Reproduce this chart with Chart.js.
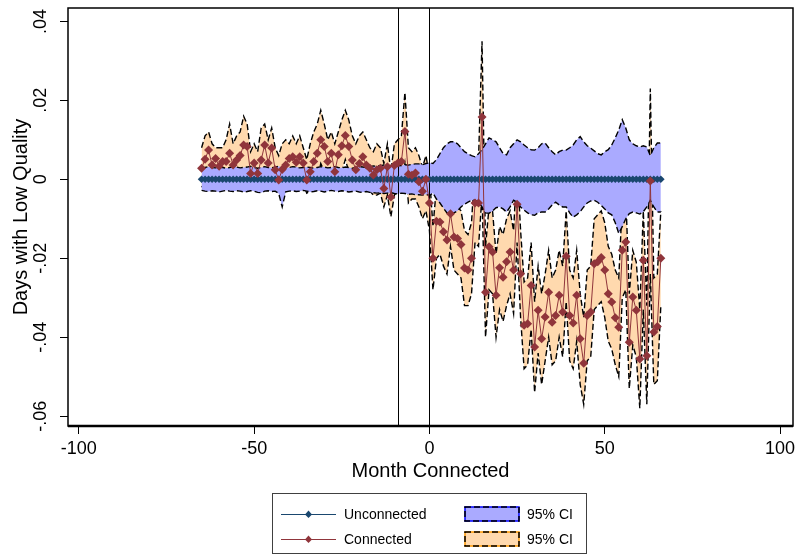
<!DOCTYPE html>
<html><head><meta charset="utf-8">
<script src="https://cdn.jsdelivr.net/npm/chart.js@4.4.1/dist/chart.umd.min.js"></script>
<style>html,body{margin:0;padding:0;background:#fff;}#wrap{width:799px;height:558px;position:relative;}</style>
</head><body><div id="wrap"><canvas id="c" width="799" height="558"></canvas></div>
<script>
const months = [-65,-64,-63,-62,-61,-60,-59,-58,-57,-56,-55,-54,-53,-52,-51,-50,-49,-48,-47,-46,-45,-44,-43,-42,-41,-40,-39,-38,-37,-36,-35,-34,-33,-32,-31,-30,-29,-28,-27,-26,-25,-24,-23,-22,-21,-20,-19,-18,-17,-16,-15,-14,-13,-12,-11,-10,-9,-8,-7,-6,-5,-4,-3,-2,-1,0,1,2,3,4,5,6,7,8,9,10,11,12,13,14,15,16,17,18,19,20,21,22,23,24,25,26,27,28,29,30,31,32,33,34,35,36,37,38,39,40,41,42,43,44,45,46,47,48,49,50,51,52,53,54,55,56,57,58,59,60,61,62,63,64,65,66];

const unconnected = [0,0,0,0,0,0,0,0,0,0,0,0,0,0,0,0,0,0,0,0,0,0,0,0,0,0,0,0,0,0,0,0,0,0,0,0,0,0,0,0,0,0,0,0,0,0,0,0,0,0,0,0,0,0,0,0,0,0,0,0,0,0,0,0,0,0,0,0,0,0,0,0,0,0,0,0,0,0,0,0,0,0,0,0,0,0,0,0,0,0,0,0,0,0,0,0,0,0,0,0,0,0,0,0,0,0,0,0,0,0,0,0,0,0,0,0,0,0,0,0,0,0,0,0,0,0,0,0,0,0,0,0];

const unconnectedHi = [
0.0028,0.0030,0.0032,0.0030,0.0029,0.0031,0.0030,0.0028,0.0030,0.0032,
0.0031,0.0029,0.0030,0.0031,0.0033,0.0030,0.0028,0.0030,0.0032,0.0030,
0.0029,0.0031,0.0033,0.0030,0.0029,0.0030,0.0032,0.0031,0.0029,0.0030,
0.0031,0.0030,0.0028,0.0030,0.0032,0.0031,0.0029,0.0030,0.0032,0.0030,
0.0029,0.0031,0.0030,0.0028,0.0030,0.0032,0.0031,0.0030,0.0032,0.0034,
0.0033,0.0035,0.0036,0.0034,0.0035,0.0036,0.0034,0.0035,0.0037,0.0036,
0.0038,0.0039,0.0039,0.0037,0.0040,0.0042,
0.0040,0.0050,0.0065,0.0080,0.0090,0.0095,0.0095,0.0090,0.0080,0.0070,
0.0065,0.0060,0.0057,0.0065,0.0075,0.0090,0.0105,0.0100,0.0095,0.0080,
0.0065,0.0062,0.0080,0.0090,0.0100,0.0095,0.0087,0.0080,0.0075,0.0074,
0.0080,0.0090,0.0092,0.0080,0.0070,0.0062,0.0070,0.0074,0.0074,0.0080,
0.0087,0.0100,0.0108,0.0095,0.0085,0.0079,0.0072,0.0065,0.0062,0.0070,
0.0075,0.0087,0.0105,0.0125,0.0151,0.0130,0.0100,0.0090,0.0085,0.0082,
0.0085,0.0082,0.0060,0.0080,0.0092,0.0092];

const unconnectedLo = [
-0.0028,-0.0030,-0.0031,-0.0029,-0.0030,-0.0032,-0.0030,-0.0028,-0.0030,-0.0031,
-0.0029,-0.0030,-0.0032,-0.0031,-0.0029,-0.0030,-0.0033,-0.0034,-0.0030,-0.0029,
-0.0031,-0.0030,-0.0036,-0.0070,-0.0032,-0.0030,-0.0029,-0.0031,-0.0030,-0.0028,
-0.0030,-0.0032,-0.0031,-0.0029,-0.0030,-0.0032,-0.0030,-0.0028,-0.0030,-0.0031,
-0.0029,-0.0030,-0.0032,-0.0031,-0.0030,-0.0032,-0.0033,-0.0031,-0.0033,-0.0034,
-0.0035,-0.0034,-0.0036,-0.0035,-0.0034,-0.0036,-0.0037,-0.0035,-0.0036,-0.0038,
-0.0037,-0.0039,-0.0039,-0.0040,-0.0038,-0.0041,
-0.0035,-0.0050,-0.0060,-0.0073,-0.0085,-0.0090,-0.0085,-0.0080,-0.0070,-0.0063,
-0.0058,-0.0053,-0.0053,-0.0058,-0.0070,-0.0085,-0.0086,-0.0080,-0.0072,-0.0070,
-0.0075,-0.0083,-0.0070,-0.0053,-0.0058,-0.0070,-0.0078,-0.0085,-0.0090,-0.0091,
-0.0085,-0.0083,-0.0083,-0.0075,-0.0065,-0.0058,-0.0065,-0.0070,-0.0070,-0.0085,
-0.0096,-0.0090,-0.0082,-0.0070,-0.0060,-0.0055,-0.0053,-0.0058,-0.0066,-0.0075,
-0.0085,-0.0090,-0.0110,-0.0137,-0.0120,-0.0100,-0.0087,-0.0083,-0.0085,-0.0088,
-0.0082,-0.0070,-0.0053,-0.0070,-0.0083,-0.0083];

const connected = [
0.0028,0.0051,0.0074,0.0036,0.0053,0.0033,0.0045,0.0045,0.0066,0.0036,
0.0049,0.0060,0.0087,0.0083,0.0015,0.0041,0.0015,0.0049,0.0087,0.0041,
0.0079,0.0024,-0.0002,0.0025,0.0036,0.0053,0.0057,0.0043,0.0057,0.0041,
-0.0002,0.0019,0.0045,0.0066,0.0100,0.0083,0.0045,0.0066,0.0019,0.0062,
0.0085,0.0111,0.0083,0.0049,0.0024,0.0040,0.0057,0.0036,0.0028,0.0011,
0.0024,0.0028,-0.0023,0.0032,-0.0045,0.0035,0.0041,0.0045,0.0121,0.0013,
0.0010,0.0016,-0.0006,-0.0030,0.0000,-0.0060,
-0.0200,-0.0106,-0.0108,-0.0133,-0.0154,-0.0087,-0.0146,-0.0150,-0.0165,-0.0225,
-0.0230,-0.0200,-0.0060,-0.0060,0.0158,-0.0286,-0.0171,-0.0184,-0.0294,-0.0224,
-0.0248,-0.0209,-0.0184,-0.0230,-0.0063,-0.0239,-0.0370,-0.0366,-0.0269,-0.0425,
-0.0332,-0.0404,-0.0349,-0.0286,-0.0362,-0.0345,-0.0294,-0.0336,-0.0195,-0.0345,
-0.0364,-0.0294,-0.0404,-0.0466,-0.0345,-0.0336,-0.0214,-0.0209,-0.0198,-0.0230,
-0.0290,-0.0311,-0.0351,-0.0375,-0.0180,-0.0159,-0.0413,-0.0298,-0.0332,-0.0455,
-0.0205,-0.0447,-0.0004,-0.0387,-0.0373,-0.0200];

const connectedHi = [
0.008,0.011,0.012,0.009,0.008,0.008,0.008,0.010,0.014,0.009,
0.011,0.012,0.016,0.014,0.007,0.009,0.007,0.013,0.014,0.010,
0.013,0.008,0.006,0.009,0.010,0.009,0.011,0.009,0.011,0.008,
0.005,0.009,0.012,0.014,0.0175,0.014,0.010,0.012,0.009,0.012,
0.015,0.0175,0.015,0.011,0.009,0.011,0.012,0.010,0.008,0.007,
0.009,0.008,0.004,0.009,0.002,0.009,0.010,0.011,0.022,0.008,
0.007,0.008,0.006,0.003,0.006,0.001,
-0.012,-0.002,-0.003,-0.005,-0.007,0.000,-0.006,-0.007,-0.008,-0.013,
-0.014,-0.011,0.004,0.005,0.035,-0.017,-0.007,-0.008,-0.019,-0.012,
-0.014,-0.010,-0.008,-0.013,0.004,-0.013,-0.026,-0.025,-0.016,-0.031,
-0.022,-0.029,-0.024,-0.018,-0.025,-0.023,-0.018,-0.022,-0.008,-0.023,
-0.025,-0.018,-0.029,-0.035,-0.023,-0.022,-0.010,-0.009,-0.008,-0.011,
-0.017,-0.019,-0.023,-0.025,-0.006,-0.004,-0.029,-0.018,-0.021,-0.033,
-0.008,-0.032,0.023,-0.025,-0.024,-0.008];

const connectedLo = [
-0.002,-0.001,0.002,-0.002,0.000,-0.002,-0.001,-0.001,0.000,-0.002,
-0.001,0.000,0.002,0.002,-0.0025,-0.001,-0.0025,-0.001,0.003,-0.002,
0.002,-0.0025,-0.0025,-0.0025,-0.0025,0.000,0.000,-0.001,0.000,-0.001,
-0.0035,-0.003,-0.002,0.000,0.004,0.002,-0.002,0.001,-0.0025,0.000,
0.002,0.005,0.002,-0.002,-0.0025,-0.002,0.000,-0.0025,-0.003,-0.004,
-0.004,-0.0035,-0.007,-0.004,-0.0095,-0.004,-0.003,-0.002,0.004,-0.006,
-0.005,-0.005,-0.007,-0.010,-0.008,-0.013,
-0.028,-0.020,-0.019,-0.022,-0.024,-0.017,-0.023,-0.024,-0.025,-0.032,
-0.032,-0.029,-0.016,-0.017,-0.004,-0.040,-0.028,-0.029,-0.040,-0.033,
-0.036,-0.032,-0.029,-0.034,-0.016,-0.035,-0.048,-0.047,-0.038,-0.054,
-0.044,-0.052,-0.046,-0.040,-0.047,-0.046,-0.040,-0.045,-0.031,-0.046,
-0.048,-0.041,-0.052,-0.057,-0.046,-0.045,-0.033,-0.032,-0.031,-0.035,
-0.041,-0.043,-0.047,-0.050,-0.030,-0.028,-0.053,-0.042,-0.045,-0.058,
-0.033,-0.057,-0.024,-0.052,-0.051,-0.032];

const xTicks = [-100, -50, 0, 50, 100];
const yTicks = [-0.06, -0.04, -0.02, 0, 0.02, 0.04];
const refLines = [-9, 0];
const legendLabels = ['Unconnected', 'Connected', '95% CI', '95% CI'];

const NAVY = '#1a476f', MAROON = '#90353b', BLUEFILL = '#aaaaff', ORANGEFILL = '#ffd9ae';
const FONT = "'Liberation Sans', Arial, sans-serif";
Chart.defaults.font.family = FONT;
Chart.defaults.color = '#000';

const pts = arr => months.map((m, i) => ({x: m, y: arr[i]}));
const fmtY = v => v === 0 ? '0' : (v < 0 ? '-' : '') + Math.abs(v).toFixed(2).replace(/^0/, '');

const ciLine = (data, extra) => Object.assign({
  data, borderColor: '#000', borderWidth: 1.4, borderDash: [6, 3], pointRadius: 0,
  tension: 0, fill: false
}, extra);

const refPlugin = {
  id: 'refLines',
  beforeDatasetDraw(chart, args) {
    if (args.index !== 1) return;
    const {ctx, chartArea} = chart, xs = chart.scales.x;
    ctx.save();
    ctx.strokeStyle = '#000'; ctx.lineWidth = 1;
    refLines.forEach(v => {
      const px = Math.round(xs.getPixelForValue(v)) + 0.5;
      ctx.beginPath(); ctx.moveTo(px, chartArea.top); ctx.lineTo(px, chartArea.bottom); ctx.stroke();
    });
    ctx.restore();
  }
};

const framePlugin = {
  id: 'frame',
  afterDraw(chart) {
    const {ctx, chartArea: a} = chart;
    ctx.save();
    ctx.strokeStyle = '#000';
    ctx.lineWidth = 1.5;
    ctx.strokeRect(a.left, a.top, a.right - a.left, a.bottom - a.top);
    ctx.lineWidth = 2.5;
    ctx.beginPath(); ctx.moveTo(a.left, a.bottom); ctx.lineTo(a.right, a.bottom); ctx.stroke();
    ctx.restore();
  }
};

const legendPlugin = {
  id: 'boxLegend',
  afterDraw(chart) {
    const ctx = chart.ctx;
    ctx.save();
    ctx.strokeStyle = '#404040'; ctx.lineWidth = 1;
    ctx.strokeRect(272.5, 493.5, 314, 60);
    ctx.font = "14px " + FONT;
    ctx.fillStyle = '#000'; ctx.textBaseline = 'middle'; ctx.textAlign = 'left';
    const rows = [514, 539];
    const lineCols = [NAVY, MAROON];
    const fills = [BLUEFILL, ORANGEFILL];
    const edge = ['#0000ff', '#ff9900'];
    rows.forEach((y, r) => {
      ctx.strokeStyle = lineCols[r]; ctx.lineWidth = 1;
      ctx.beginPath(); ctx.moveTo(281, y + 0.5); ctx.lineTo(336, y + 0.5); ctx.stroke();
      ctx.fillStyle = lineCols[r];
      ctx.beginPath(); ctx.moveTo(308.5, y - 3.5); ctx.lineTo(312, y + 0.5); ctx.lineTo(308.5, y + 4); ctx.lineTo(305, y + 0.5); ctx.closePath(); ctx.fill();
      ctx.fillStyle = '#000';
      ctx.fillText(legendLabels[r], 344, y + 1);
      ctx.fillStyle = fills[r];
      ctx.fillRect(465, y - 7, 54, 14);
      ctx.strokeStyle = edge[r]; ctx.lineWidth = 1.5; ctx.setLineDash([]);
      ctx.strokeRect(465, y - 7, 54, 14);
      ctx.strokeStyle = '#000'; ctx.setLineDash([6, 3]);
      ctx.strokeRect(465, y - 7, 54, 14);
      ctx.setLineDash([]);
      ctx.fillStyle = '#000';
      ctx.fillText(legendLabels[r + 2], 527, y + 1);
    });
    ctx.restore();
  }
};

new Chart(document.getElementById('c'), {
  type: 'line',
  data: {
    datasets: [
      {label: legendLabels[1], data: pts(connected), borderColor: MAROON, borderWidth: 1, tension: 0,
       pointStyle: 'rectRot', pointRadius: 4.5, pointBackgroundColor: MAROON, pointBorderColor: MAROON,
       pointBorderWidth: 0, fill: false, order: 1},
      {label: legendLabels[0], data: pts(unconnected), borderColor: NAVY, borderWidth: 1, tension: 0,
       pointStyle: 'rectRot', pointRadius: 3.8, pointBackgroundColor: NAVY, pointBorderColor: NAVY,
       pointBorderWidth: 0, fill: false, order: 2},
      ciLine(pts(unconnectedHi), {label: legendLabels[2], fill: {target: 3}, backgroundColor: BLUEFILL, order: 4}),
      ciLine(pts(unconnectedLo), {label: legendLabels[2], order: 3}),
      ciLine(pts(connectedHi), {label: legendLabels[3], fill: {target: 5}, backgroundColor: ORANGEFILL, order: 6}),
      ciLine(pts(connectedLo), {label: legendLabels[3], order: 5})
    ]
  },
  options: {
    responsive: false, animation: false, devicePixelRatio: 1, events: [],
    layout: {padding: {top: 8, right: 6, bottom: 74, left: 0}},
    plugins: {legend: {display: false}, tooltip: {enabled: false}},
    scales: {
      x: {
        type: 'linear', min: -103.1, max: 103.7,
        afterBuildTicks: s => { s.ticks = xTicks.map(v => ({value: v})); },
        afterFit: s => { s.height = 58; s.paddingLeft = 0; s.paddingRight = 0; },
        ticks: {font: {size: 18}, color: '#000', padding: 4, maxRotation: 0, autoSkip: false, callback: v => String(v)},
        grid: {display: true, drawOnChartArea: false, drawTicks: true, tickLength: 8, color: '#000', lineWidth: 1},
        border: {display: false},
        title: {display: true, text: 'Month Connected', font: {size: 20}, color: '#000', padding: {top: 0, bottom: 1}}
      },
      y: {
        type: 'linear', min: -0.0625, max: 0.0434,
        afterBuildTicks: s => { s.ticks = yTicks.map(v => ({value: v})); },
        afterFit: s => { s.width = 68; s.paddingTop = 0; s.paddingBottom = 0; },
        ticks: {font: {size: 18}, color: '#000', padding: 3, minRotation: 90, maxRotation: 90, crossAlign: 'center', autoSkip: false, callback: fmtY},
        grid: {display: true, drawOnChartArea: false, drawTicks: true, tickLength: 8, color: '#000', lineWidth: 1},
        border: {display: false},
        title: {display: true, text: 'Days with Low Quality', font: {size: 20}, color: '#000', padding: {top: 9, bottom: 0}}
      }
    }
  },
  plugins: [refPlugin, framePlugin, legendPlugin]
});
</script></body></html>
